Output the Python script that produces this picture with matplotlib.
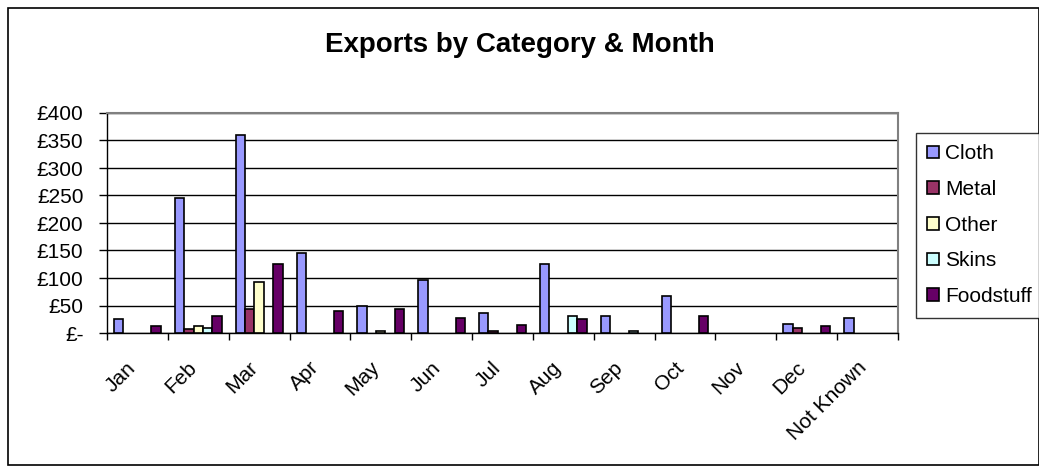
import numpy as np
import matplotlib
matplotlib.use("Agg")
import matplotlib.pyplot as plt
import matplotlib.transforms as mtransforms
from matplotlib.patches import Rectangle
from matplotlib.ticker import FuncFormatter, MultipleLocator

plt.rcParams['font.family'] = ['Liberation Sans', 'DejaVu Sans']

months = ["Jan", "Feb", "Mar", "Apr", "May", "Jun", "Jul", "Aug", "Sep",
          "Oct", "Nov", "Dec", "Not Known"]
series = ["Cloth", "Metal", "Other", "Skins", "Foodstuff"]
colors = ["#9999FF", "#993366", "#FFFFCC", "#CCFFFF", "#660066"]

cloth     = [25, 245, 360, 145, 50, 96, 37, 125, 31, 68, 0, 16, 27]
metal     = [0, 7, 43, 0, 0, 0, 3, 0, 0, 0, 0, 9, 0]
other     = [0, 12, 93, 0, 3, 0, 0, 0, 0, 0, 0, 0, 0]
skins     = [0, 9, 0, 0, 0, 0, 0, 31, 3, 0, 0, 0, 0]
foodstuff = [12, 31, 125, 40, 43, 27, 15, 25, 0, 31, 0, 13, 0]
values = [cloth, metal, other, skins, foodstuff]

fig = plt.figure(figsize=(10.39, 4.69), dpi=100)
ax = fig.add_axes([107 / 1039, 1 - 333 / 469, (898 - 107) / 1039, (333 - 113) / 469])

# outer chart frame
fig.patches.append(Rectangle((8 / 1039, 4 / 469), 1 - 8 / 1039, 1 - 12 / 469,
                             transform=fig.transFigure, fill=False,
                             edgecolor="black", linewidth=1.2))

x = np.arange(len(months))
w = 1 / 6.5
for i, (name, vals, c) in enumerate(zip(series, values, colors)):
    vals = np.array(vals, dtype=float)
    keep = vals > 0  # empty months get no bar at all
    ax.bar(x[keep] + (i - 2) * w, vals[keep], width=w, color=c, edgecolor="black",
           linewidth=1.2, label=name, zorder=3)

ax.set_xlim(-0.5, len(months) - 0.5)
ax.set_ylim(0, 400)
ax.yaxis.set_major_locator(MultipleLocator(50))
ax.yaxis.set_major_formatter(FuncFormatter(lambda v, p: "£-" if v == 0 else f"£{v:.0f}"))
ax.grid(axis="y", color="black", linewidth=1, zorder=0)

ax.set_xticks(x)
ax.set_xticklabels(months, rotation=45, ha="right", va="top", rotation_mode="anchor")
ax.set_xticks(np.arange(-0.5, len(months)), minor=True)
ax.tick_params(axis="x", which="major", length=0, pad=18, labelsize=15)
ax.tick_params(axis="x", which="minor", length=5, width=1)
ax.tick_params(axis="y", length=6, width=1, labelsize=15, pad=11)

# nudge month labels a little left so they hang under their cluster
shift = mtransforms.ScaledTranslation(-11 / 100, 0, fig.dpi_scale_trans)
for lbl in ax.get_xticklabels():
    lbl.set_transform(lbl.get_transform() + shift)

for s in ["top", "right"]:
    ax.spines[s].set_color("#808080")
    ax.spines[s].set_linewidth(1.5)
ax.spines["left"].set_linewidth(1)
ax.spines["bottom"].set_linewidth(1)

fig.text(0.5, 1 - 45 / 469, "Exports by Category & Month", ha="center",
         va="center", fontsize=20, fontweight="bold")

leg = fig.legend(loc="upper left", bbox_to_anchor=(916 / 1039, 1 - 133 / 469),
                 fontsize=15, frameon=True, fancybox=False, edgecolor="black",
                 handlelength=0.55, handleheight=0.55, handletextpad=0.3,
                 labelspacing=0.8, borderpad=0.55, borderaxespad=0)
leg.get_frame().set_linewidth(1)

fig.savefig("out.png", dpi=100)
